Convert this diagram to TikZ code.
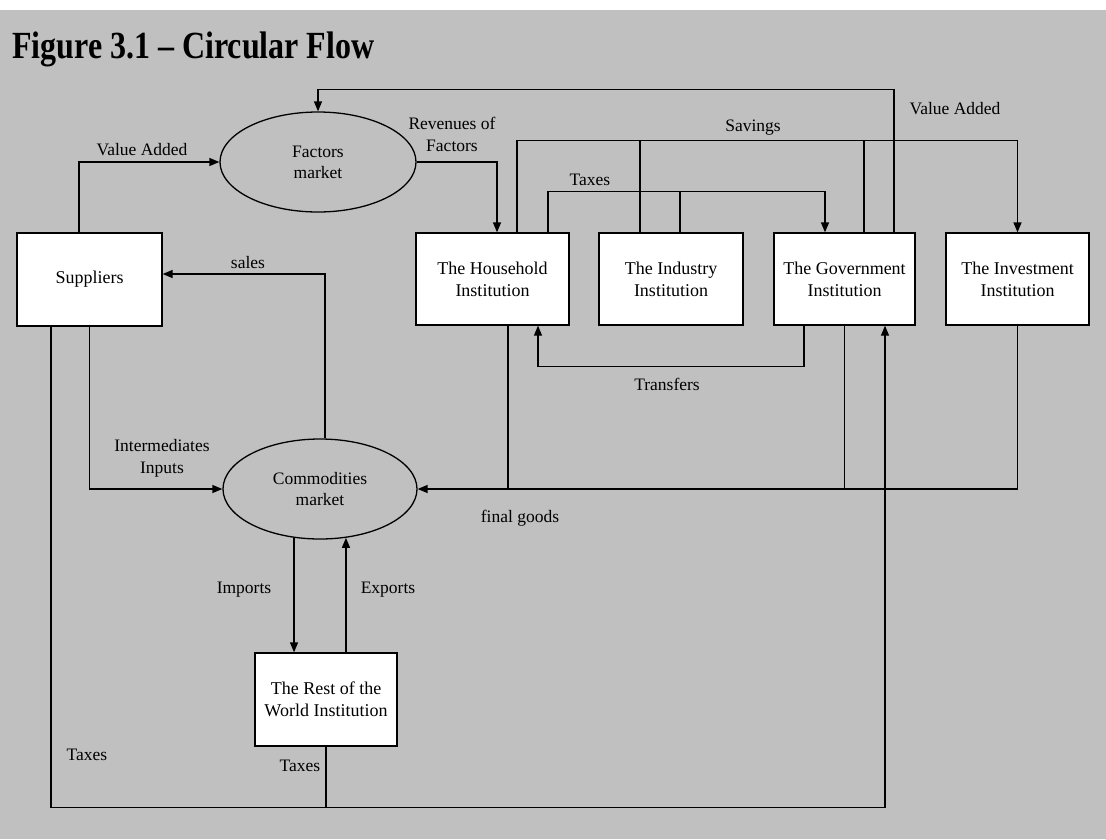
\documentclass[tikz,border=0pt]{standalone}
\usepackage{fontspec}
\setmainfont{Liberation Serif}
\usetikzlibrary{arrows.meta,shapes.geometric,calc}
\definecolor{paper}{RGB}{192,192,192}
\tikzset{
  flow/.style={line width=1.3pt,draw=black},
  arr/.style={flow,-{Triangle[length=10pt,width=8pt]}},
  inst/.style={draw=black,line width=1.3pt,fill=white,rectangle,align=center,
    font=\fontsize{18}{22}\selectfont,inner sep=0pt},
  market/.style={draw=black,line width=1.3pt,ellipse,align=center,
    font=\fontsize{17.5}{21}\selectfont,inner sep=0pt},
  lbl/.style={align=center,font=\fontsize{17.5}{22}\selectfont,inner sep=0pt}
}
\begin{document}
\begin{tikzpicture}[x=1pt,y=-1pt]
% page and backdrop
\fill[white] (0,0) rectangle (1106,839);
\fill[paper] (0,10) rectangle (1106,839);
\useasboundingbox (0,0) rectangle (1106,839);

% title
\node[anchor=base west,inner sep=0pt,font=\fontsize{32}{38}\bfseries] (title) at (12,58)
  {\scalebox{1}[1.2]{Figure 3.1 -- Circular Flow}};

% markets
\node[market,minimum width=196pt,minimum height=100pt] (fac) at (318,162) {Factors\\market};
\node[market,minimum width=194pt,minimum height=100pt] (com) at (320,489) {Commodities\\market};

% institutions
\node[inst,minimum width=145pt,minimum height=93pt] (sup) at (89.5,279.5) {Suppliers};
\node[inst,minimum width=153pt,minimum height=92pt] (hh)  at (492.5,279) {The Household\\Institution};
\node[inst,minimum width=144pt,minimum height=92pt] (ind) at (671,279) {The Industry\\Institution};
\node[inst,minimum width=141pt,minimum height=92pt] (gov) at (844.5,279) {The Government\\Institution};
\node[inst,minimum width=143pt,minimum height=92pt] (inv) at (1017.5,279) {The Investment\\Institution};
\node[inst,minimum width=142pt,minimum height=93pt] (row) at (326,699.5) {The Rest of the\\World Institution};

% value added from suppliers into the factors market
\draw[arr] ([xshift=-10.5pt]sup.north) |- (fac.west);
% value added from government back to the factors market
\draw[arr] ([xshift=49.5pt]gov.north) -- ++(0,-143) -| (fac.north);
% revenues of factors to households
\draw[arr] (fac.east) -| ([xshift=4.5pt]hh.north);

% savings to investment
\draw[arr] ([xshift=24.5pt]hh.north) -- ++(0,-92) -| (inv.north);
\draw[flow] ([xshift=-31pt]ind.north) -- ++(0,-92);
\draw[flow] ([xshift=19.5pt]gov.north) -- ++(0,-92);

% taxes to government
\draw[arr] ([xshift=55.5pt]hh.north) -- ++(0,-41) -| ([xshift=-19.5pt]gov.north);
\draw[flow] ([xshift=9pt]ind.north) -- ++(0,-41);

% transfers to households
\draw[arr] ([xshift=-40.5pt]gov.south) -- ++(0,41) -| ([xshift=45.5pt]hh.south);

% final goods into the commodities market
\draw[arr] (inv.south) |- (com.east);
\draw[flow] ([xshift=15.5pt]hh.south) -- ++(0,164);
\draw[flow] (gov.south) -- ++(0,164);

% sales and intermediate inputs
\draw[arr] ([xshift=5pt]com.north) |- ([yshift=5.5pt]sup.east);
\draw[arr] (sup.south) |- (com.west);

% imports and exports
\draw[arr] (com.242.6) -- (com.242.6 |- row.north);
\draw[arr] (row.north -| com.298.3) -- (com.298.3);

% taxes from suppliers and rest of the world to government
\draw[arr] ([xshift=-38.5pt]sup.south) -- ++(0,481) -| ([xshift=40.5pt]gov.south);
\draw[flow] (row.south) -- ++(0,61);

% labels
\node[lbl] (l-va1) at (142,150) {Value Added};
\node[lbl] (l-rev) at (452,134) {Revenues of\\Factors};
\node[lbl] (l-sav) at (753,128) {Savings};
\node[lbl] (l-va2) at (955,109) {Value Added};
\node[lbl] (l-tax) at (590,180) {Taxes};
\node[lbl] (l-sal) at (248,263) {sales};
\node[lbl] (l-tra) at (667,384) {Transfers};
\node[lbl] (l-int) at (162,458) {Intermediates\\Inputs};
\node[lbl] (l-fin) at (520,518) {final goods};
\node[lbl] (l-imp) at (244,590) {Imports};
\node[lbl] (l-exp) at (388,590) {Exports};
\node[lbl] (l-tx1) at (87,755) {Taxes};
\node[lbl] (l-tx2) at (300,766) {Taxes};
\end{tikzpicture}
\end{document}
